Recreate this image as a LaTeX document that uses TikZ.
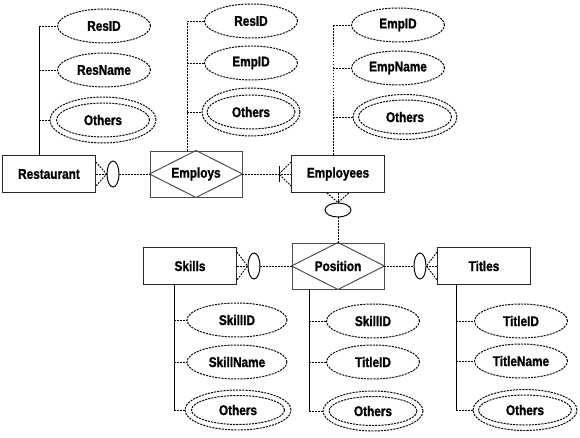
\documentclass[tikz,border=0pt]{standalone}
\usepackage{fontspec}
\newfontfamily\erfonte[FakeStretch=0.84, FakeBold=1.2]{Liberation Sans}
\usepackage{tikz}
\usetikzlibrary{shapes.geometric,calc}
\tikzset{
    rotulo/.style={font=\erfonte\bfseries\fontsize{8}{9}\selectfont},
    entidade/.style={
        rectangle,
        draw=black!85,
        rotulo,
        minimum width=1.86cm,
        minimum height=0.74cm,
        inner sep=1pt
    },
    relacao/.style={
        rectangle,
        draw=black!70,
        rotulo,
        minimum width=1.84cm,
        minimum height=0.92cm,
        inner sep=1pt,
        append after command={
            (\tikzlastnode.north) edge[losango] (\tikzlastnode.east)
                                  edge[losango] (\tikzlastnode.west)
            (\tikzlastnode.south) edge[losango] (\tikzlastnode.east)
                                  edge[losango] (\tikzlastnode.west)
        }
    },
    losango/.style={draw=black!70, solid},
    atributo/.style={
        ellipse,
        draw,
        dash pattern=on 1.2pt off 0.6pt,
        rotulo,
        minimum width=1.86cm,
        minimum height=0.68cm,
        inner sep=0pt
    },
    anel/.style={
        ellipse,
        draw,
        dash pattern=on 1.2pt off 0.6pt,
        minimum width=2.12cm,
        minimum height=0.92cm,
        inner sep=0pt
    },
    opcional/.style={ellipse, draw, inner sep=0pt, minimum width=0.24cm, minimum height=0.52cm},
    conector/.style={dash pattern=on 1pt off 0.7pt},
    tronco/.style={draw}
}

\begin{document}
\begin{tikzpicture}[x=0.02cm, y=-0.02cm, line width=0.55pt]

    \useasboundingbox (0,0) rectangle (580,438);

    \node[entidade] (rest) at (49,174) {Restaurant};
    \node[relacao] (emprega) at (196,174) {Employs};
    \node[entidade] (empl) at (338,174) {Employees};
    \node[entidade] (skil) at (190,266) {Skills};
    \node[relacao] (posicao) at (338,266) {Position};
    \node[entidade] (tit) at (484,266) {Titles};

    \node[opcional] (o1) at (113,174) {};
    \node[opcional, minimum width=0.52cm, minimum height=0.28cm] (o2) at (338,210) {};
    \node[opcional] (o3) at (254,266) {};
    \node[opcional] (o4) at (420,266) {};

    \node[atributo] (rId) at (104,26) {ResID};
    \node[atributo] (rNome) at (104,70) {ResName};
    \node[anel] (rAnel) at (103,120) {};
    \node[atributo] (rOutros) at (103,120) {Others};

    \node[atributo] (eResId) at (251,21) {ResID};
    \node[atributo] (eEmpId) at (251,63) {EmpID};
    \node[anel, minimum width=1.96cm, minimum height=0.96cm] (eAnel) at (251,112) {};
    \node[atributo, minimum width=1.76cm] (eOutros) at (251,112) {Others};

    \node[atributo] (fId) at (398,25) {EmpID};
    \node[atributo] (fNome) at (398,68) {EmpName};
    \node[anel, minimum width=2.08cm, minimum height=0.9cm] (fAnel) at (405,117) {};
    \node[atributo] (fOutros) at (405,117) {Others};

    \node[atributo, minimum width=2cm] (hId) at (237,320) {SkillID};
    \node[atributo, minimum width=2cm] (hNome) at (237,362) {SkillName};
    \node[anel, minimum height=0.8cm] (hAnel) at (238,410) {};
    \node[atributo, minimum height=0.58cm] (hOutros) at (238,410) {Others};

    \node[atributo] (pHab) at (373,321) {SkillID};
    \node[atributo] (pTit) at (373,362) {TitleID};
    \node[anel, minimum width=2cm, minimum height=0.8cm] (pAnel) at (373,411) {};
    \node[atributo, minimum width=1.76cm, minimum height=0.58cm] (pOutros) at (373,411) {Others};

    \node[atributo] (tId) at (521,321) {TitleID};
    \node[atributo] (tNome) at (521,361) {TitleName};
    \node[anel, minimum width=2.08cm, minimum height=0.82cm] (tAnel) at (525,410) {};
    \node[atributo, minimum height=0.6cm] (tOutros) at (525,410) {Others};

    \coordinate (rT) at (39,0);
    \coordinate (eT) at (187,0);
    \coordinate (fT) at (333,0);
    \coordinate (hT) at (174,0);
    \coordinate (pT) at (309,0);
    \coordinate (tT) at (456,0);

    \draw[tronco] (rest.north -| rT) -- (rT |- rId);
    \draw[tronco, conector] (emprega.north -| eT) -- (eT |- eResId);
    \draw[tronco, conector] (empl.north -| fT) -- (fT |- fId);
    \draw[tronco] (skil.south -| hT) -- (hT |- hAnel);
    \draw[tronco] (posicao.south -| pT) -- (pT |- pAnel);
    \draw[tronco] (tit.south -| tT) -- (tT |- tAnel);

    \foreach \a in {rId,rNome,rAnel} \draw[conector] (rT |- \a) -- (\a.west);
    \foreach \a in {eResId,eEmpId,eAnel} \draw[conector] (eT |- \a) -- (\a.west);
    \foreach \a in {fId,fNome,fAnel} \draw[conector] (fT |- \a) -- (\a.west);
    \foreach \a in {hId,hNome,hAnel} \draw[conector] (hT |- \a) -- (\a.west);
    \foreach \a in {pHab,pTit,pAnel} \draw[conector] (pT |- \a) -- (\a.west);
    \foreach \a in {tId,tNome,tAnel} \draw[conector] (tT |- \a) -- (\a.west);

    \draw[conector] ($(rest.east)+(0,-12)$) -- (o1.west) -- ($(rest.east)+(0,12)$);
    \draw[conector] (rest.east) -- (o1.west);
    \draw[conector] (o1.east) -- (emprega.west);

    \draw[conector] (emprega.east) -- (empl.west);
    \coordinate (b1) at ($(empl.west)+(-12,0)$);
    \draw[conector] ($(empl.west)+(0,-12)$) -- (b1) -- ($(empl.west)+(0,12)$);
    \draw ($(b1)+(0,-8)$) -- ($(b1)+(0,8)$);

    \draw[conector] ($(empl.south)+(-11,0)$) -- (o2.north) -- ($(empl.south)+(11,0)$);
    \draw[conector] (empl.south) -- (o2.north);
    \draw[conector] (o2.south) -- (posicao.north);

    \draw[conector] ($(skil.east)+(0,-14)$) -- (o3.west) -- ($(skil.east)+(0,14)$);
    \draw[conector] (skil.east) -- (o3.west);
    \draw[conector] (o3.east) -- (posicao.west);

    \draw[conector] (posicao.east) -- (o4.west);
    \draw[conector] ($(tit.west)+(0,-14)$) -- (o4.east) -- ($(tit.west)+(0,14)$);
    \draw[conector] (o4.east) -- (tit.west);

\end{tikzpicture}
\end{document}
